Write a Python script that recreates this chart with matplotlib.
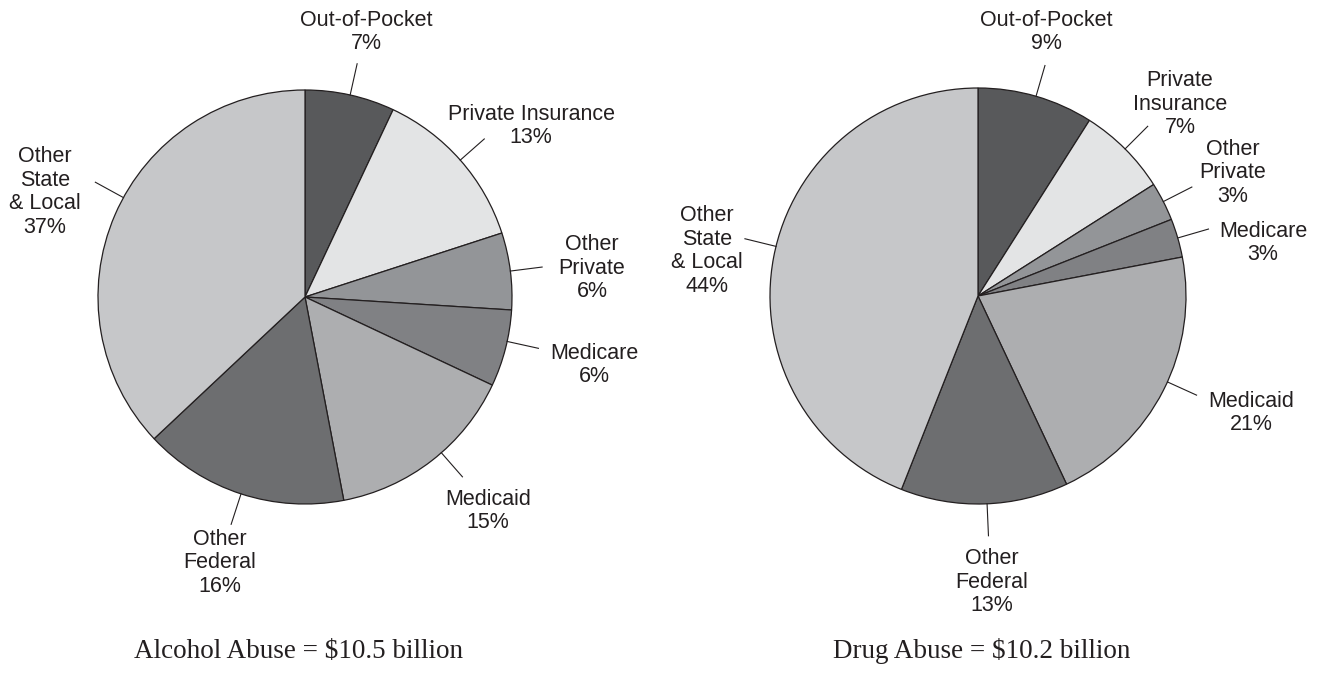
import numpy as np
import matplotlib
matplotlib.use("Agg")
import matplotlib.pyplot as plt

W, H = 1327, 687

categories = ["Out-of-Pocket", "Private Insurance", "Other Private", "Medicare",
              "Medicaid", "Other Federal", "Other State & Local"]
alcohol_pct = [7, 13, 6, 6, 15, 16, 37]
drug_pct = [9, 7, 3, 3, 21, 13, 44]
slice_colors = ["#58595b", "#e3e4e5", "#939598", "#808184",
                "#adaeb0", "#6d6e70", "#c6c7c9"]

alcohol_labels = ["Out-of-Pocket", "Private Insurance", "Other\nPrivate", "Medicare",
                  "Medicaid", "Other\nFederal", "Other\nState\n& Local"]
drug_labels = ["Out-of-Pocket", "Private\nInsurance", "Other\nPrivate", "Medicare",
               "Medicaid", "Other\nFederal", "Other\nState\n& Local"]
alcohol_title = "Alcohol Abuse = $10.5 billion"
drug_title = "Drug Abuse = $10.2 billion"

# layout in pixel coordinates (y measured from top); leader lines are nudged
# by a few degrees away from the wedge mid-angle where needed
pies = [
    dict(values=alcohol_pct, labels=alcohol_labels, title=alcohol_title,
         center=(305, 297), radius=207, title_x=299,
         nudge=[0, 0, 0, 2, 3.4, 0, -5.3],
         text_pos=[(366, 32), (531, 126), (592, 268), (594, 365),
                   (488, 511), (220, 563), (45, 192)]),
    dict(values=drug_pct, labels=drug_labels, title=drug_title,
         center=(978, 296), radius=208, title_x=982,
         nudge=[0, 0, 0, 0, 2.6, 0.7, -3],
         text_pos=[(1046, 32), (1180, 104), (1233, 173), (1263, 243),
                   (1251, 413), (992, 582), (707, 251)]),
]

fig = plt.figure(figsize=(W / 100, H / 100), dpi=100)
ax = fig.add_axes([0, 0, 1, 1])

for p in pies:
    cx, cy = p["center"][0], H - p["center"][1]
    r = p["radius"]
    wedges, _ = ax.pie(p["values"], colors=slice_colors, startangle=90,
                       counterclock=False, center=(cx, cy), radius=r, frame=True,
                       wedgeprops=dict(edgecolor="#231f20", linewidth=0.9))
    for i, (w, lab, (tx, ty)) in enumerate(zip(wedges, p["labels"], p["text_pos"])):
        mid = np.deg2rad((w.theta1 + w.theta2) / 2 + p["nudge"][i])
        x0, y0 = cx + r * np.cos(mid), cy + r * np.sin(mid)
        x1, y1 = cx + (r + 32) * np.cos(mid), cy + (r + 32) * np.sin(mid)
        ax.plot([x0, x1], [y0, y1], color="#231f20", lw=0.8)
        ax.text(tx, H - ty, f"{lab}\n{p['values'][i]}%", ha="center", va="center",
                fontsize=15.5, family="Liberation Sans", color="#231f20",
                linespacing=1.17)
    ax.text(p["title_x"], H - 651, p["title"], ha="center", va="center",
            fontsize=19.5, family="Liberation Serif", color="#231f20")

ax.set_xlim(0, W)
ax.set_ylim(0, H)
ax.set_aspect("auto")
ax.axis("off")
fig.savefig("out.png", dpi=100, facecolor="white")
